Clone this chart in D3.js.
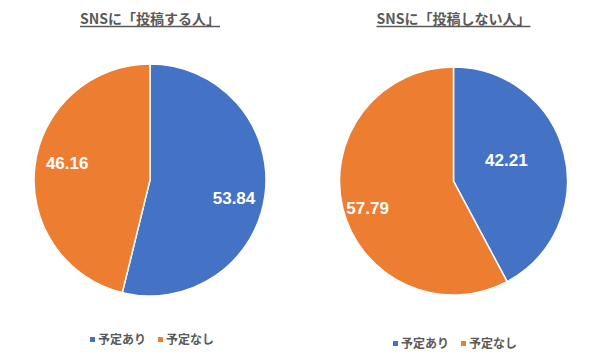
<!DOCTYPE html>
<html><head><meta charset="utf-8">
<script src="https://cdn.jsdelivr.net/npm/d3@7"></script>
<style>
html,body{margin:0;padding:0;background:#fff;}
svg{display:block;}
</style></head><body>
<svg id="c" width="600" height="358"></svg>
<script>
const titles = ["SNSに「投稿する人」", "SNSに「投稿しない人」"];
const categories = ["予定あり", "予定なし"];
const postValues = [53.84, 46.16];
const noPostValues = [42.21, 57.79];
const colors = ["#4472C4", "#ED7D31"];

const charts = [
  {title: titles[0], values: postValues, cx: 150, cy: 180, r: 116, labelR: [0.74, 0.73], labelShift: [5, 5], legendY: 340, legendX: 90},
  {title: titles[1], values: noPostValues, cx: 453.5, cy: 181, r: 114, labelR: [0.50, 0.79], labelShift: [-8, -3.5], legendY: 344, legendX: 393}
];

const svg = d3.select("#c");
const jp = "'Noto Sans CJK JP','Noto Sans',sans-serif";

charts.forEach(ch => {
  const g = svg.append("g").attr("transform", `translate(${ch.cx},${ch.cy})`);
  const pie = d3.pie().sort(null).value(d => d)(ch.values);
  const arc = d3.arc().innerRadius(0).outerRadius(ch.r);
  g.selectAll("path").data(pie).join("path")
    .attr("d", arc)
    .attr("fill", (d, i) => colors[i])
    .attr("stroke", "#fff").attr("stroke-width", 1.5);
  g.selectAll("text.lbl").data(pie).join("text").attr("class", "lbl")
    .attr("transform", (d, i) => {
      const a = (d.startAngle + d.endAngle) / 2 + ch.labelShift[i] * Math.PI / 180;
      const rr = ch.r * ch.labelR[i];
      return `translate(${rr * Math.sin(a)},${-rr * Math.cos(a)})`;
    })
    .attr("text-anchor", "middle").attr("dy", "0.36em")
    .attr("fill", "#fff").attr("font-family", "Arial,'Liberation Sans',sans-serif")
    .attr("font-weight", "bold").attr("font-size", 17)
    .text(d => d.data.toFixed(2));

  // title
  const t = svg.append("text").attr("x", ch.cx).attr("y", 24)
    .attr("text-anchor", "middle").attr("fill", "#595959")
    .attr("font-family", jp).attr("font-weight", "bold").attr("font-size", 14)
    .text(ch.title);
  const bb = t.node().getBBox();
  svg.append("line").attr("x1", bb.x).attr("x2", bb.x + bb.width)
    .attr("y1", 26.5).attr("y2", 26.5).attr("stroke", "#595959").attr("stroke-width", 1.3);

  // legend
  const lg = svg.append("g").attr("transform", `translate(${ch.legendX},${ch.legendY})`);
  categories.forEach((c, i) => {
    const x = i * 68;
    lg.append("rect").attr("x", x).attr("y", -3).attr("width", 5).attr("height", 5).attr("fill", colors[i]);
    lg.append("text").attr("x", x + 8).attr("y", 0).attr("dy", "0.36em")
      .attr("fill", "#595959").attr("font-family", jp).attr("font-weight", "bold")
      .attr("font-size", 12).text(c);
  });
});
</script>
</body></html>
